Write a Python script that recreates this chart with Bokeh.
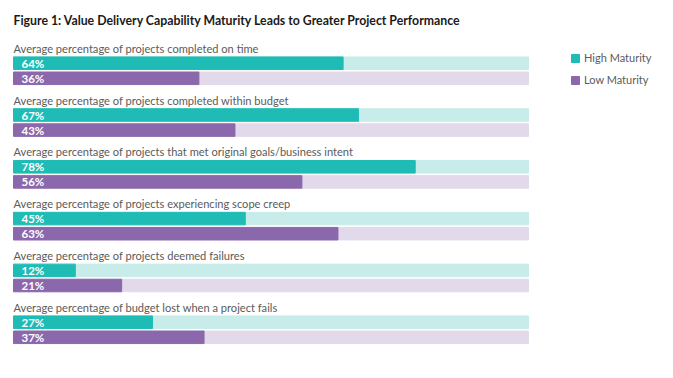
from bokeh.plotting import figure
from bokeh.models import Range1d, ColumnDataSource, Legend, LegendItem
from bokeh.core.properties import value
from bokeh.embed import file_html
from bokeh.resources import INLINE

title = "Figure 1: Value Delivery Capability Maturity Leads to Greater Project Performance"
categories = [
    "Average percentage of projects completed on time",
    "Average percentage of projects completed within budget",
    "Average percentage of projects that met original goals/business intent",
    "Average percentage of projects experiencing scope creep",
    "Average percentage of projects deemed failures",
    "Average percentage of budget lost when a project fails",
]
high = [64, 67, 78, 45, 12, 27]
low = [36, 43, 56, 63, 21, 37]
series_names = ["High Maturity", "Low Maturity"]

W, H = 657, 362
PX0, PX100 = 13, 528          # pixel positions of 0% and 100% inside the frame
SCALE = 100.0 / (PX100 - PX0)
FONT = "Lato"

TEAL, TEAL_BG = "#1fbcb6", "#c7ecea"
PURP, PURP_BG = "#8b68ab", "#e2d9ea"

GROUP_STEP = 51.8
n = len(categories)
label_y = [47.8 + i * GROUP_STEP for i in range(n)]
high_y = [62.7 + i * GROUP_STEP for i in range(n)]
low_y = [77.8 + i * GROUP_STEP for i in range(n)]
BAR_H = 12.5

p = figure(width=W, height=H, output_backend="svg", toolbar_location=None,
           x_range=Range1d(-PX0 * SCALE, (W - PX0) * SCALE),
           y_range=Range1d(H, 0), min_border=0)
p.axis.visible = False
p.grid.visible = False
p.outline_line_color = None
p.background_fill_color = "#ffffff"
p.border_fill_color = "#ffffff"

src = ColumnDataSource(dict(
    cat=categories, high=high, low=low,
    high_txt=[f"{v}%" for v in high], low_txt=[f"{v}%" for v in low],
    full=[100] * n, label_y=label_y, high_y=high_y, low_y=low_y,
))

# background tracks
p.hbar(y="high_y", left=0, right="full", height=BAR_H, color=TEAL_BG, source=src)
p.hbar(y="low_y", left=0, right="full", height=BAR_H, color=PURP_BG, source=src)
# value bars
r_high = p.hbar(y="high_y", left=0, right="high", height=BAR_H, color=TEAL, source=src)
r_low = p.hbar(y="low_y", left=0, right="low", height=BAR_H, color=PURP, source=src)

# value labels
for col_y, col_t in (("high_y", "high_txt"), ("low_y", "low_txt")):
    p.text(x=0, y=col_y, text=col_t, source=src, x_offset=8, y_offset=0,
           text_color="white", text_font=value(FONT), text_font_style="bold",
           text_font_size="11.5px", text_baseline="middle")

# category labels
p.text(x=0, y="label_y", text="cat", source=src, text_color="#5b5b5b",
       text_font=value(FONT), text_font_size="11.1px", text_baseline="middle")

# title
p.text(x=[0], y=[20.3], text=[title], text_color="#1a1a1a", text_font=value(FONT),
       text_font_style="bold", text_font_size="12.3px", text_baseline="middle")

legend = Legend(items=[LegendItem(label=series_names[0], renderers=[r_high]),
                       LegendItem(label=series_names[1], renderers=[r_low])],
                location=(570, 276), orientation="vertical",
                glyph_width=10, glyph_height=10, label_height=10, spacing=9,
                label_standoff=4, padding=0, margin=0,
                border_line_alpha=0, background_fill_alpha=0,
                label_text_font=FONT, label_text_font_size="11px",
                label_text_color="#5b5b5b")
p.add_layout(legend, "center")

open("out.html", "w").write(file_html(p, INLINE))
